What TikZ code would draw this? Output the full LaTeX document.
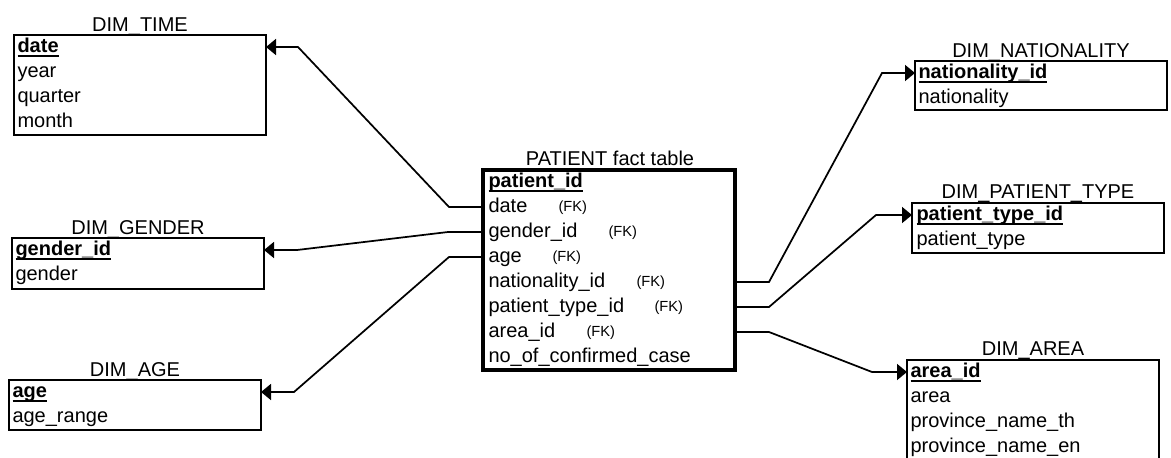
\documentclass[tikz,border=0pt]{standalone}
\usepackage{fontspec}
\setmainfont{Liberation Sans}
\usetikzlibrary{arrows.meta,calc}

% primary key: bold, underlined a little below the underscores
\newcommand{\pkey}[1]{\setbox0\hbox{\bfseries #1}\rlap{\rule[-3.6pt]{\wd0}{1.1pt}}\box0}

\tikzset{every picture/.style={line width=0.75pt}}
\tikzset{
  tbl/.style={draw, line width=1.5pt, minimum width=189pt, inner sep=0pt, outer sep=0pt},
  facttbl/.style={tbl, line width=2.4pt},
  fld/.style={anchor=west, inner sep=0.75pt, text height=10.5pt, text depth=3pt, font=\fontsize{15}{18}\selectfont},
  fkmark/.style={anchor=west, inner sep=0.75pt, font=\fontsize{11}{13}\selectfont},
  ttl/.style={anchor=base, inner sep=0.75pt, font=\fontsize{15}{18}\selectfont},
  link/.style={line width=1.3pt, -{Triangle[length=7.5pt,width=12pt]}}
}

\begin{document}
\begin{tikzpicture}[
                x=0.75pt,
                y=0.75pt,
                yscale=-1,
                xscale=1,
                every node/.style={text=black},
                line width=0.75pt
            ]
                \useasboundingbox (0,0) rectangle (1171,457);
                \clip (0,0) rectangle (1171,457);

                % dimension tables, left side
                \node [tbl, minimum height=75pt] (time) at (140,85) {};
                \node [ttl] (time-title) at (140,31) {DIM\_TIME};
                \node [fld] (t-date) at (16,47) {\pkey{date}};
                \node [fld] (t-year) at (16,72) {year};
                \node [fld] (t-quarter) at (16,97) {quarter};
                \node [fld] (t-month) at (16,122) {month};

                \node [tbl, minimum height=38.25pt] (gender) at (138,263.5) {};
                \node [ttl] (gender-title) at (138,234) {DIM\_GENDER};
                \node [fld] (g-id) at (14,250) {\pkey{gender\_id}};
                \node [fld] (g-gender) at (14,275) {gender};

                \node [tbl, minimum height=37.5pt] (age) at (135,405) {};
                \node [ttl] (age-title) at (135,376) {DIM\_AGE};
                \node [fld] (a-age) at (11,392) {\pkey{age}};
                \node [fld] (a-range) at (11,417) {age\_range};

                % fact table
                \node [facttbl, minimum height=150pt] (fact) at (609,270) {};
                \node [ttl] (fact-title) at (610,165) {PATIENT fact table};
                \node [fld] (f-id) at (487,182) {\pkey{patient\_id}};
                \node [fld] (f-date) at (487,207) {date};
                \node [fld] (f-gender) at (487,232) {gender\_id};
                \node [fld] (f-age) at (487,257) {age};
                \node [fld] (f-nat) at (487,282) {nationality\_id};
                \node [fld] (f-ptype) at (487,307) {patient\_type\_id};
                \node [fld] (f-area) at (487,332) {area\_id};
                \node [fld] (f-cases) at (487,357) {no\_of\_confirmed\_case};

                \node [fkmark] (fk-date) at (557,208) {(FK)};
                \node [fkmark] (fk-gender) at (607,233) {(FK)};
                \node [fkmark] (fk-age) at (551,258) {(FK)};
                \node [fkmark] (fk-nat) at (635,283) {(FK)};
                \node [fkmark] (fk-ptype) at (653,308) {(FK)};
                \node [fkmark] (fk-area) at (585,333) {(FK)};

                % dimension tables, right side
                \node [tbl, minimum height=36.75pt] (nat) at (1041,85.5) {};
                \node [ttl] (nat-title) at (1041,57) {DIM\_NATIONALITY};
                \node [fld] (n-id) at (917,73) {\pkey{nationality\_id}};
                \node [fld] (n-nat) at (917,98) {nationality};

                \node [tbl, minimum height=37.5pt] (ptype) at (1038,228) {};
                \node [ttl] (ptype-title) at (1038,198) {DIM\_PATIENT\_TYPE};
                \node [fld] (p-id) at (915,215) {\pkey{patient\_type\_id}};
                \node [fld] (p-type) at (915,240) {patient\_type};

                \node [tbl, minimum height=90pt] (area) at (1033,420) {};
                \node [ttl] (area-title) at (1033,355) {DIM\_AREA};
                \node [fld] (r-id) at (909,372) {\pkey{area\_id}};
                \node [fld] (r-area) at (909,397) {area};
                \node [fld] (r-th) at (909,422) {province\_name\_th};
                \node [fld] (r-en) at (909,447) {province\_name\_en};

                % foreign key links
                \draw [link] (fact.west |- f-date) -- ++(-34,0) -- ($(time.east |- t-date)+(32,0)$) -- (time.east |- t-date);
                \draw [link] (fact.west |- f-gender) -- ++(-35,0) -- ($(gender.east |- g-id)+(33,0)$) -- (gender.east |- g-id);
                \draw [link] (fact.west |- f-age) -- ++(-34,0) -- ($(age.east |- a-age)+(33,0)$) -- (age.east |- a-age);
                \draw [link] (fact.east |- f-nat) -- ++(34,0) -- ($(nat.west |- n-id)+(-33,0)$) -- (nat.west |- n-id);
                \draw [link] (fact.east |- f-ptype) -- ++(34,0) -- ($(ptype.west |- p-id)+(-36,0)$) -- (ptype.west |- p-id);
                \draw [link] (fact.east |- f-area) -- ++(34,0) -- ($(area.west |- r-id)+(-35,0)$) -- (area.west |- r-id);
            \end{tikzpicture}
\end{document}
